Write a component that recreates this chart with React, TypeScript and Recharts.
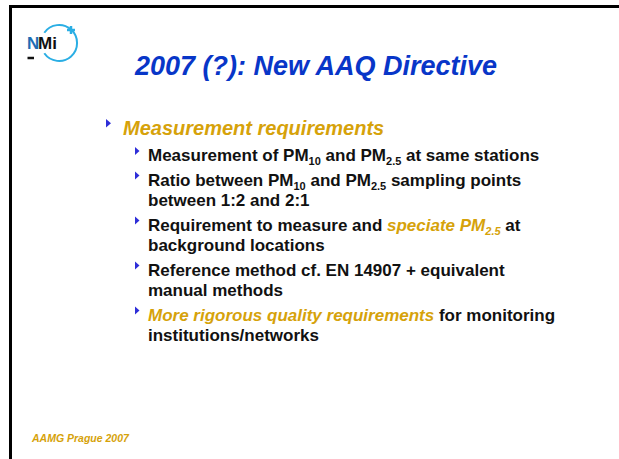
import React from "react";
import { Surface } from "recharts";

// slide text
const title = "2007 (?): New AAQ Directive";
const heading = "Measurement requirements";
const footer = "AAMG Prague 2007";

// each segment: text, sub = subscript, hl = gold italic highlight
type Seg = { t: string; sub?: boolean; hl?: boolean };

const bullet1: Seg[][] = [
  [{ t: "Measurement of PM" }, { t: "10", sub: true }, { t: " and PM" }, { t: "2.5", sub: true }, { t: " at same stations" }],
];
const bullet2: Seg[][] = [
  [{ t: "Ratio between PM" }, { t: "10", sub: true }, { t: " and PM" }, { t: "2.5", sub: true }, { t: " sampling points" }],
  [{ t: "between 1:2 and 2:1" }],
];
const bullet3: Seg[][] = [
  [{ t: "Requirement to measure and " }, { t: "speciate PM", hl: true }, { t: "2.5", sub: true, hl: true }, { t: " at" }],
  [{ t: "background locations" }],
];
const bullet4: Seg[][] = [
  [{ t: "Reference method cf. EN 14907 + equivalent" }],
  [{ t: "manual methods" }],
];
const bullet5: Seg[][] = [
  [{ t: "More rigorous quality requirements", hl: true }, { t: " for monitoring" }],
  [{ t: "institutions/networks" }],
];
const bullets = [bullet1, bullet2, bullet3, bullet4, bullet5];

const FONT = "'Liberation Sans', Arial, sans-serif";
const GOLD = "#d6a20a";
const BLUE = "#0836c8";
const MARK = "#2e2ed8";

const Logo = () => (
  <g>
    <path d="M 44.3 32.7 A 18 18 0 1 1 44.3 53.3" fill="none" stroke="#2aaee4" strokeWidth={2} />
    <line x1={67} y1={30} x2={75} y2={30} stroke="#2aaee4" strokeWidth={2.5} />
    <line x1={71} y1={26} x2={71} y2={34} stroke="#2aaee4" strokeWidth={2.5} />
    <text x={27} y={48.5} fontFamily={FONT} fontWeight="bold" fontSize={17} fill="#1d6db4">N</text>
    <text x={38} y={48.5} fontFamily={FONT} fontWeight="bold" fontSize={17} fill="#111">Mi</text>
    <line x1={27.5} y1={58} x2={34} y2={58} stroke="#111" strokeWidth={2.5} />
  </g>
);

const Line = ({ segs, x, y }: { segs: Seg[]; x: number; y: number }) => {
  let shifted = false;
  return (
    <text x={x} y={y} fontFamily={FONT} fontWeight="bold" fontSize={17} fill="#111">
      {segs.map((s, i) => {
        let dy = 0;
        if (s.sub && !shifted) { dy = 4; shifted = true; }
        else if (!s.sub && shifted) { dy = -4; shifted = false; }
        return (
          <tspan
            key={i}
            dy={dy}
            fontSize={s.sub ? 11 : 17}
            fill={s.hl ? GOLD : "#111"}
            fontStyle={s.hl ? "italic" : "normal"}
          >
            {s.t}
          </tspan>
        );
      })}
    </text>
  );
};

const Tri = ({ x, y, w, h }: { x: number; y: number; w: number; h: number }) => (
  <polygon points={`${x},${y} ${x + w},${y + h / 2} ${x},${y + h}`} fill={MARK} />
);

export default function App() {
  const out: React.ReactNode[] = [];
  let y = 161;
  bullets.forEach((b, bi) => {
    out.push(<Tri key={`m${bi}`} x={135} y={y - 14} w={4.5} h={8} />);
    b.forEach((segs, li) => {
      out.push(<Line key={`l${bi}-${li}`} segs={segs} x={148} y={y} />);
      y += 20.5;
    });
    y += 4;
  });

  return (
    <div style={{ position: "absolute", left: 0, top: 0, width: 619, height: 459, background: "#fff" }}>
      <Surface width={619} height={459} viewBox={{ x: 0, y: 0, width: 619, height: 459 }}>
        <rect x={10.5} y={6.5} width={700} height={600} fill="#fff" stroke="#000" strokeWidth={3} />
        <Logo />
        <text x={135} y={75} fontFamily={FONT} fontWeight="bold" fontStyle="italic" fontSize={27} fill={BLUE}>
          {title}
        </text>
        <Tri x={106} y={119} w={5} h={8.5} />
        <text x={123} y={135} fontFamily={FONT} fontWeight="bold" fontStyle="italic" fontSize={20} fill={GOLD}>
          {heading}
        </text>
        {out}
        <text x={32} y={442} fontFamily={FONT} fontWeight="bold" fontStyle="italic" fontSize={10.5} fill={GOLD}>
          {footer}
        </text>
      </Surface>
    </div>
  );
}
